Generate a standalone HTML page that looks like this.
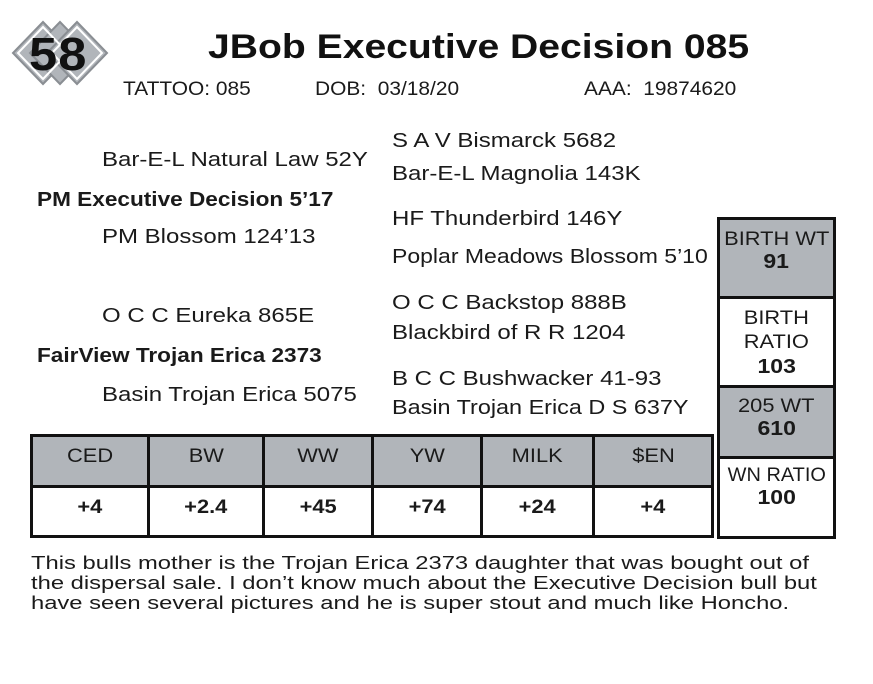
<!DOCTYPE html><html><head><style>
body{margin:0;width:873px;height:684px;background:#fff;font-family:"Liberation Sans",sans-serif;color:#1a1a1a;position:relative;overflow:hidden}
.t{position:absolute;white-space:nowrap;font-size:20px;transform:scaleX(1.2);transform-origin:0 0}
.b{font-weight:bold}
.box{position:absolute;border:3px solid #111;box-sizing:border-box}
.cell{position:absolute;text-align:center;box-sizing:border-box;font-size:19px}
.cell span{display:inline-block;transform:scaleX(1.15)}
.cell b{display:inline-block;font-size:20px;transform:scaleX(1.15)}
</style></head><body>
<svg style="position:absolute;left:10px;top:20px" width="100" height="66">
<g fill="#b1b5ba" stroke="#8a8e93" stroke-width="2">
<polygon points="33,2 63,33 33,64 3,33"/>
<polygon points="50,2 80,33 50,64 20,33"/>
<polygon points="67,2 97,33 67,64 37,33"/>
</g>
<g fill="none" stroke="#fff" stroke-width="2">
<polygon points="33,7 58,33 33,59 8,33"/>
<polygon points="67,7 92,33 67,59 42,33"/>
</g>
</svg>
<div class="t b" style="left:29px;top:27px;font-size:46px;letter-spacing:1px;color:#111;transform:scaleX(1.1)">58</div>
<div class="t b" style="left:208px;top:28px;font-size:34px;color:#111;transform:scaleX(1.15)">JBob Executive Decision 085</div>
<div class="t" style="left:123px;top:79px;font-size:19px;transform:scaleX(1.1)">TATTOO: 085</div>
<div class="t" style="left:315px;top:79px;font-size:19px;transform:scaleX(1.1)">DOB:&nbsp; 03/18/20</div>
<div class="t" style="left:584px;top:79px;font-size:19px;transform:scaleX(1.1)">AAA:&nbsp; 19874620</div>

<div class="t" style="left:102px;top:149px">Bar-E-L Natural Law 52Y</div>
<div class="t b" style="left:37px;top:189px;transform:scaleX(1.13)">PM Executive Decision 5’17</div>
<div class="t" style="left:102px;top:226px">PM Blossom 124’13</div>
<div class="t" style="left:102px;top:305px">O C C Eureka 865E</div>
<div class="t b" style="left:37px;top:345px;transform:scaleX(1.13)">FairView Trojan Erica 2373</div>
<div class="t" style="left:102px;top:384px">Basin Trojan Erica 5075</div>

<div class="t" style="left:392px;top:130px">S A V Bismarck 5682</div>
<div class="t" style="left:392px;top:163px">Bar-E-L Magnolia 143K</div>
<div class="t" style="left:392px;top:208px">HF Thunderbird 146Y</div>
<div class="t" style="left:392px;top:246px;transform:scaleX(1.15)">Poplar Meadows Blossom 5’10</div>
<div class="t" style="left:392px;top:292px">O C C Backstop 888B</div>
<div class="t" style="left:392px;top:322px">Blackbird of R R 1204</div>
<div class="t" style="left:392px;top:368px">B C C Bushwacker 41-93</div>
<div class="t" style="left:392px;top:397px;transform:scaleX(1.17)">Basin Trojan Erica D S 637Y</div>

<!-- right box -->
<div class="box" style="left:717px;top:217px;width:119px;height:322px;background:#fff"></div>
<div class="cell" style="left:720px;top:220px;width:113px;height:76px;background:#b1b5ba;padding-top:9px"><span>BIRTH WT</span><br><b>91</b></div>
<div style="position:absolute;left:720px;top:296px;width:113px;height:3px;background:#111"></div>
<div class="cell" style="left:720px;top:307px;width:113px;line-height:24px"><span>BIRTH</span><br><span>RATIO</span><br><b>103</b></div>
<div style="position:absolute;left:720px;top:385px;width:113px;height:3px;background:#111"></div>
<div class="cell" style="left:720px;top:388px;width:113px;height:68px;background:#b1b5ba;padding-top:8px"><span>205 WT</span><br><b>610</b></div>
<div style="position:absolute;left:720px;top:456px;width:113px;height:3px;background:#111"></div>
<div class="cell" style="left:720px;top:465px;width:113px"><span style="transform:scaleX(1.05)">WN RATIO</span><br><b>100</b></div>

<!-- bottom table -->
<div class="box" style="left:30px;top:434px;width:684px;height:104px"></div>
<div style="position:absolute;left:33px;top:437px;width:678px;height:48px;background:#b1b5ba"></div>
<div style="position:absolute;left:33px;top:485px;width:678px;height:3px;background:#111"></div>
<div style="position:absolute;left:147px;top:437px;width:3px;height:98px;background:#111"></div>
<div style="position:absolute;left:262px;top:437px;width:3px;height:98px;background:#111"></div>
<div style="position:absolute;left:371px;top:437px;width:3px;height:98px;background:#111"></div>
<div style="position:absolute;left:480px;top:437px;width:3px;height:98px;background:#111"></div>
<div style="position:absolute;left:592px;top:437px;width:3px;height:98px;background:#111"></div>
<div class="cell" style="left:33px;top:446px;width:114px"><span>CED</span></div>
<div class="cell" style="left:150px;top:446px;width:112px"><span>BW</span></div>
<div class="cell" style="left:265px;top:446px;width:106px"><span>WW</span></div>
<div class="cell" style="left:374px;top:446px;width:106px"><span>YW</span></div>
<div class="cell" style="left:483px;top:446px;width:109px"><span>MILK</span></div>
<div class="cell" style="left:595px;top:446px;width:116px"><span>$EN</span></div>
<div class="cell b" style="left:33px;top:497px;width:114px"><span>+4</span></div>
<div class="cell b" style="left:150px;top:497px;width:112px"><span>+2.4</span></div>
<div class="cell b" style="left:265px;top:497px;width:106px"><span>+45</span></div>
<div class="cell b" style="left:374px;top:497px;width:106px"><span>+74</span></div>
<div class="cell b" style="left:483px;top:497px;width:109px"><span>+24</span></div>
<div class="cell b" style="left:595px;top:497px;width:116px"><span>+4</span></div>

<div style="position:absolute;left:31px;top:553px;white-space:nowrap;font-size:18px;line-height:20px;transform:scaleX(1.32);transform-origin:0 0">This bulls mother is the Trojan Erica 2373 daughter that was bought out of<br>the dispersal sale. I don’t know much about the Executive Decision bull but<br>have seen several pictures and he is super stout and much like Honcho.</div>
</body></html>
